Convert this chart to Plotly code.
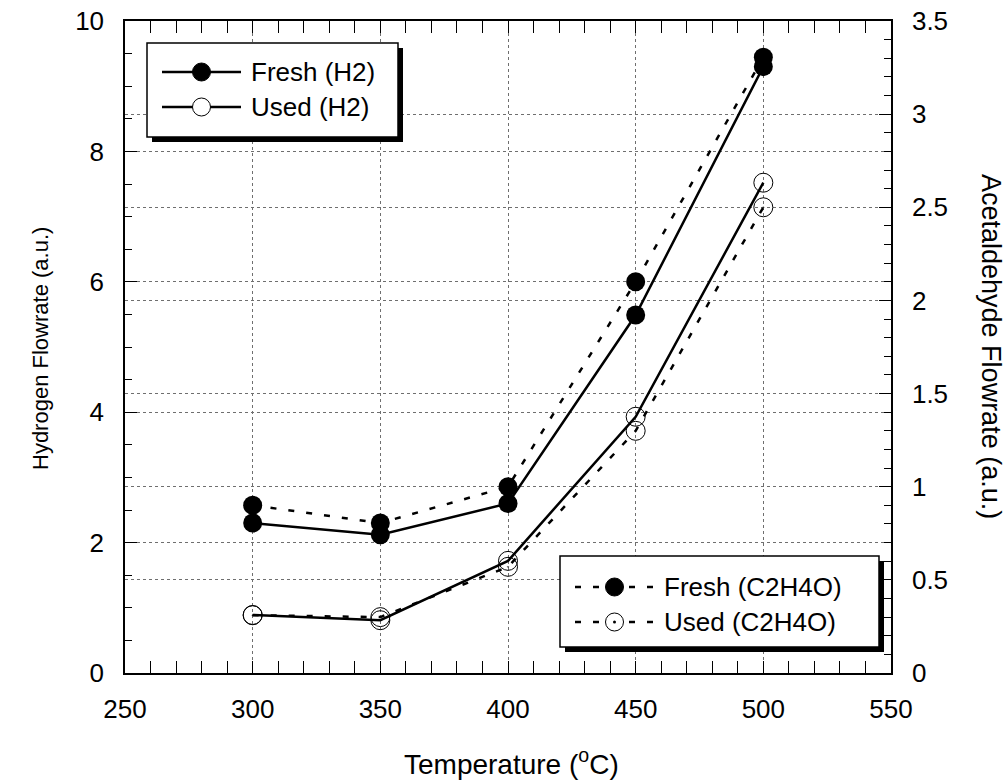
import plotly.graph_objects as go

temps = [300, 350, 400, 450, 500]
fresh_h2 = [2.30, 2.12, 2.60, 5.49, 9.30]
used_h2 = [0.89, 0.81, 1.72, 3.93, 7.52]
fresh_c2h4o = [0.90, 0.805, 1.00, 2.10, 3.305]
used_c2h4o = [0.31, 0.30, 0.57, 1.30, 2.50]

names_h2 = ["Fresh (H2)", "Used (H2)"]
names_c2 = ["Fresh (C2H4O)", "Used (C2H4O)"]

FONT = "Arial, Liberation Sans, sans-serif"
FS = 26
DOT = "6px,12px"

# plot area in pixels
L, R, T, B = 125, 891, 21, 673
W, H = R - L, B - T


def px(x):
    return (x - L) / W


def py(y):
    return (B - y) / H


fig = go.Figure()

fig.add_trace(go.Scatter(x=temps, y=fresh_h2, name=names_h2[0], mode="lines+markers",
                         line=dict(color="black", width=2.5),
                         marker=dict(symbol="circle", size=19, color="black")))
fig.add_trace(go.Scatter(x=temps, y=used_h2, name=names_h2[1], mode="lines+markers",
                         line=dict(color="black", width=2.5),
                         marker=dict(symbol="circle-open", size=19, color="black", line=dict(width=1))))
fig.add_trace(go.Scatter(x=temps, y=fresh_c2h4o, name=names_c2[0], mode="lines+markers",
                         line=dict(color="black", width=2.5, dash=DOT),
                         marker=dict(symbol="circle", size=19, color="black"),
                         yaxis="y2"))
fig.add_trace(go.Scatter(x=temps, y=used_c2h4o, name=names_c2[1], mode="lines+markers",
                         line=dict(color="black", width=2.5, dash=DOT),
                         marker=dict(symbol="circle-open-dot", size=19, color="black", line=dict(width=1)),
                         yaxis="y2"))

# ---- legend boxes drawn as shapes/annotations (long sample lines, drop shadow)
shapes = []
annotations = []


def legend_box(x0, y0, x1, y1, rows, dash):
    shapes.append(dict(type="rect", xref="paper", yref="paper", layer="above",
                       x0=px(x0 + 5), x1=px(x1 + 5), y0=py(y0 + 5), y1=py(y1 + 5),
                       fillcolor="black", line=dict(width=0)))
    shapes.append(dict(type="rect", xref="paper", yref="paper", layer="above",
                       x0=px(x0), x1=px(x1), y0=py(y0), y1=py(y1),
                       fillcolor="white", line=dict(color="black", width=1.5)))
    for (label, yrow, filled, dotted) in rows:
        lx0, lx1 = x0 + 15, x0 + 94
        mx = (lx0 + lx1) / 2
        shapes.append(dict(type="line", xref="paper", yref="paper", layer="above",
                           x0=px(lx0), x1=px(lx1), y0=py(yrow), y1=py(yrow),
                           line=dict(color="black", width=2.5, dash=dash)))
        shapes.append(dict(type="circle", xref="paper", yref="paper", layer="above",
                           xsizemode="pixel", ysizemode="pixel",
                           xanchor=px(mx), yanchor=py(yrow), x0=-9, x1=9, y0=-9, y1=9,
                           fillcolor="black" if filled else "white",
                           line=dict(color="black", width=1)))
        if dotted:
            shapes.append(dict(type="circle", xref="paper", yref="paper", layer="above",
                               xsizemode="pixel", ysizemode="pixel",
                               xanchor=px(mx), yanchor=py(yrow), x0=-1.5, x1=1.5, y0=-1.5, y1=1.5,
                               fillcolor="black", line=dict(color="black", width=0)))
        annotations.append(dict(text=label, xref="paper", yref="paper", x=px(x0 + 102), y=py(yrow),
                                xanchor="left", yanchor="middle", showarrow=False,
                                font=dict(size=FS)))


legend_box(147, 43, 398, 137,
           [(names_h2[0], 72, True, False), (names_h2[1], 107, False, False)], "solid")
legend_box(560, 556, 879, 647,
           [(names_c2[0], 587, True, False), (names_c2[1], 622, False, True)], DOT)

annotations += [
    dict(text="Hydrogen Flowrate (a.u.)", xref="paper", yref="paper", x=px(40), y=py(349),
         xanchor="center", yanchor="middle", showarrow=False, textangle=-90, font=dict(size=22)),
    dict(text="Acetaldehyde Flowrate (a.u.)", xref="paper", yref="paper", x=px(991), y=py(346),
         xanchor="center", yanchor="middle", showarrow=False, textangle=90, font=dict(size=27)),
    dict(text="Temperature (<sup>o</sup>C)", xref="paper", yref="paper", x=px(511), y=py(762),
         xanchor="center", yanchor="middle", showarrow=False, font=dict(size=28)),
]

grid = dict(showgrid=True, gridcolor="#6f6f6f", gridwidth=1, griddash="3px,3px")

fig.update_layout(
    width=1007, height=782,
    margin=dict(l=L, r=1007 - R, t=T, b=782 - B, autoexpand=False),
    paper_bgcolor="white", plot_bgcolor="white",
    font=dict(family=FONT, size=FS, color="black"),
    showlegend=False,
    xaxis=dict(range=[250, 550], dtick=50, tick0=250, ticks="inside", ticklen=12, tickwidth=1,
               tickcolor="black", showline=True, linecolor="black", linewidth=1.5, mirror="allticks",
               zeroline=False, ticklabelstandoff=12,
               minor=dict(dtick=10, ticks="inside", ticklen=7, tickcolor="black", showgrid=False),
               **grid),
    yaxis=dict(range=[0, 10], dtick=2, ticks="inside", ticklen=12, tickwidth=1, tickcolor="black",
               showline=True, linecolor="black", linewidth=1.5, zeroline=False, ticklabelstandoff=14,
               minor=dict(dtick=0.5, ticks="inside", ticklen=7, tickcolor="black", showgrid=False),
               **grid),
    yaxis2=dict(range=[0, 3.5], dtick=0.5, overlaying="y", side="right", ticks="inside", ticklen=12,
                tickwidth=1, tickcolor="black", showline=True, linecolor="black", linewidth=1.5,
                zeroline=False, ticklabelstandoff=14,
                minor=dict(dtick=0.1, ticks="inside", ticklen=7, tickcolor="black", showgrid=False),
                **grid),
    shapes=shapes,
    annotations=annotations,
)

fig.write_html("out.html")
